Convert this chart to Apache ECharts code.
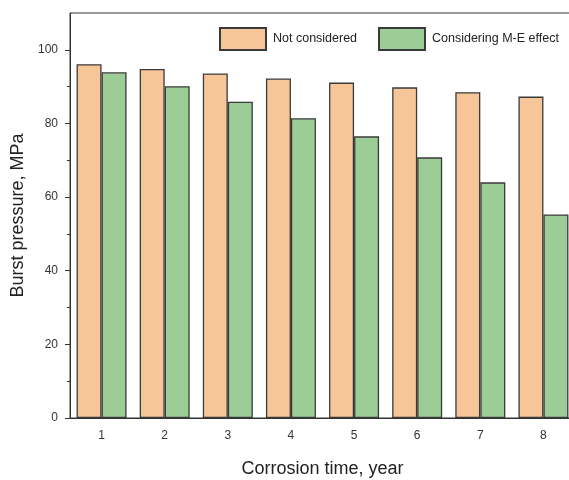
<!DOCTYPE html>
<html>
<head>
<meta charset="utf-8">
<script src="https://cdn.jsdelivr.net/npm/echarts@6/dist/echarts.min.js"></script>
<style>
  html, body { margin: 0; padding: 0; background: #fff; }
  #chart { width: 569px; height: 480px; }
</style>
</head>
<body>
<div id="chart"></div>
<script>
// Burst pressure over corrosion time, with and without the M-E effect
const years = ['1', '2', '3', '4', '5', '6', '7', '8'];
const notConsidered = [96.1, 94.8, 93.6, 92.2, 91.1, 89.8, 88.5, 87.3];
const consideringME = [93.9, 90.1, 85.9, 81.4, 76.5, 70.8, 64.0, 55.3];
const seriesNames = ['Not considered', 'Considering M-E effect'];
const yTicks = [0, 20, 40, 60, 80, 100];

const FONT = 'Liberation Sans, Arial, sans-serif';
const INK = '#333';

const legendText = { fontFamily: FONT, fontSize: 12.5, color: '#222', padding: [0, 0, 0, 2] };

const chart = echarts.init(document.getElementById('chart'), null, { renderer: 'canvas' });

chart.setOption({
  animation: false,
  backgroundColor: '#fff',
  textStyle: { fontFamily: FONT },
  grid: {
    left: 70, right: -6, top: 13, bottom: 62,
    outerBoundsMode: 'none',
    show: true, borderColor: INK, borderWidth: 1, backgroundColor: 'transparent'
  },
  legend: [
    {
      left: 214, top: 22, itemWidth: 46, itemHeight: 22, icon: 'rect',
      textStyle: legendText, data: [seriesNames[0]]
    },
    {
      left: 373, top: 22, itemWidth: 46, itemHeight: 22, icon: 'rect',
      textStyle: legendText, data: [seriesNames[1]]
    }
  ],
  xAxis: [
    {
      type: 'category',
      data: years,
      name: 'Corrosion time, year',
      nameLocation: 'middle',
      nameGap: 42,
      nameTextStyle: { fontFamily: FONT, fontSize: 18, color: '#222' },
      axisLine: { lineStyle: { color: INK, width: 1 } },
      axisTick: { alignWithLabel: true, length: 6, lineStyle: { color: INK } },
      axisLabel: { fontFamily: FONT, fontSize: 12, color: '#333', margin: 12 }
    },
    {
      // short ticks on the category boundaries
      type: 'category',
      data: years,
      position: 'bottom',
      axisLine: { show: false },
      axisTick: { length: 3, lineStyle: { color: INK } },
      axisLabel: { show: false }
    }
  ],
  yAxis: {
    type: 'value',
    min: 0, max: 110, interval: 20,
    name: 'Burst pressure, MPa',
    nameLocation: 'middle',
    nameGap: 42,
    nameTextStyle: { fontFamily: FONT, fontSize: 18, color: '#222' },
    axisLine: { show: true, lineStyle: { color: INK, width: 1 } },
    axisTick: { show: true, length: 5, customValues: yTicks, lineStyle: { color: INK } },
    minorTick: { show: true, splitNumber: 2, length: 3, lineStyle: { color: INK } },
    splitLine: { show: false },
    axisLabel: {
      fontFamily: FONT, fontSize: 12, color: '#333', margin: 12,
      customValues: yTicks
    }
  },
  series: [
    {
      name: seriesNames[0],
      type: 'bar',
      data: notConsidered,
      barWidth: 25,
      barGap: '0%',
      itemStyle: { color: '#F6C598', borderColor: '#3a3a3a', borderWidth: 1.3 }
    },
    {
      name: seriesNames[1],
      type: 'bar',
      data: consideringME,
      barWidth: 25,
      barGap: '0%',
      itemStyle: { color: '#9CCD97', borderColor: '#3a3a3a', borderWidth: 1.3 }
    }
  ]
});
</script>
</body>
</html>
